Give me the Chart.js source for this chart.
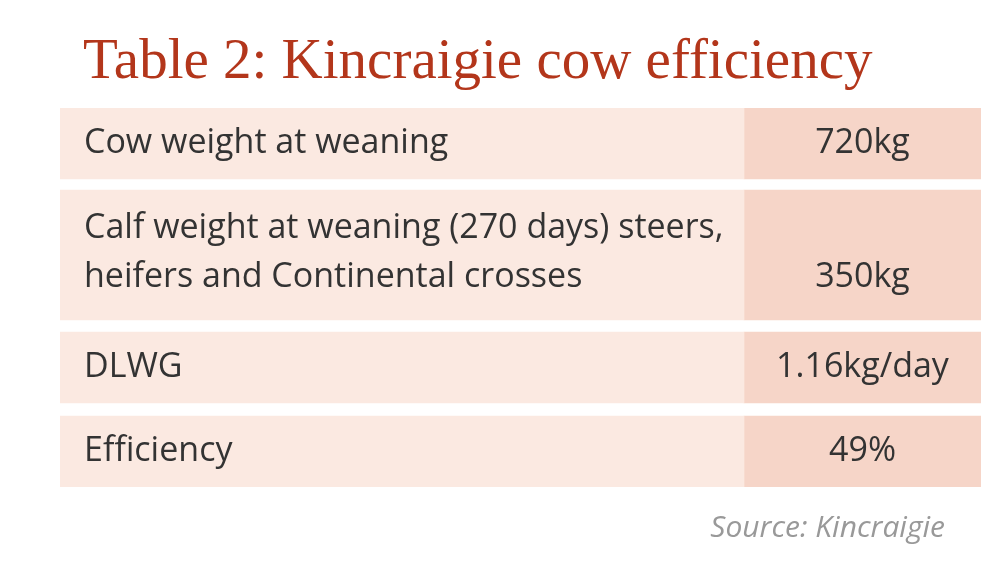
<!DOCTYPE html>
<html><head><meta charset="utf-8">
<script src="https://cdn.jsdelivr.net/npm/chart.js@4"></script>
<style>html,body{margin:0;padding:0;background:#fff}#w{width:981px;height:564px}</style>
</head><body><div id="w"><canvas id="c"></canvas></div>
<script>
const titleText = "Table 2: Kincraigie cow efficiency";
const sourceText = "Source: Kincraigie";
const rowLabels = [["Cow weight at weaning"], ["Calf weight at weaning (270 days) steers,", "heifers and Continental crosses"], ["DLWG"], ["Efficiency"]];
const rowValues = ["720kg", "350kg", "1.16kg/day", "49%"];
const rowCenters = [35.5, 147, 259.5, 343.5];
const rowTall = [false, true, false, false];
const labelSpan = [0, 684];
const valueSpan = [684, 921];

function mk(tall, span, color) {
  return {
    data: rowCenters.map((c, i) => rowTall[i] === tall ? { x: span, y: c } : { x: null, y: c }),
    backgroundColor: color, barThickness: tall ? 130 : 71, grouped: false, borderWidth: 0
  };
}
const textPlugin = {
  id: 'txt',
  afterDatasetsDraw(chart) {
    const { ctx, scales: { x, y } } = chart;
    ctx.save();
    ctx.fillStyle = '#b3361b';
    ctx.font = '57px "Liberation Serif", serif';
    ctx.textBaseline = 'alphabetic'; ctx.textAlign = 'left';
    ctx.fillText(titleText, 83, 78);
    ctx.fillStyle = '#333';
    ctx.font = '34px "Open Sans", sans-serif';
    rowCenters.forEach((c, i) => {
      const py = y.getPixelForValue(c);
      const lines = rowLabels[i];
      ctx.textBaseline = 'middle';
      ctx.textAlign = 'left';
      if (lines.length === 1) ctx.fillText(lines[0], x.getPixelForValue(0) + 24, py);
      else {
        ctx.fillText(lines[0], x.getPixelForValue(0) + 24, py - 27);
        ctx.fillText(lines[1], x.getPixelForValue(0) + 24, py + 22);
      }
      ctx.textAlign = 'center';
      const vx = (x.getPixelForValue(valueSpan[0]) + x.getPixelForValue(valueSpan[1])) / 2;
      ctx.fillText(rowValues[i], vx, lines.length === 1 ? py : py + 22);
    });
    ctx.fillStyle = '#999';
    ctx.font = 'italic 30px "Open Sans", sans-serif';
    ctx.textAlign = 'right'; ctx.textBaseline = 'middle';
    ctx.fillText(sourceText, 945, 528);
    ctx.restore();
  }
};
new Chart(document.getElementById('c'), {
  type: 'bar',
  data: { datasets: [mk(false, labelSpan, '#fbe9e1'), mk(true, labelSpan, '#fbe9e1'), mk(false, valueSpan, '#f6d5c8'), mk(true, valueSpan, '#f6d5c8')] },
  options: {
    indexAxis: 'y', responsive: true, maintainAspectRatio: false, animation: false,
    layout: { padding: { top: 108, bottom: 77, left: 60, right: 0 } },
    scales: {
      x: { type: 'linear', min: 0, max: 921, display: false, offset: false },
      y: { type: 'linear', min: 0, max: 379, reverse: true, display: false, offset: false }
    },
    plugins: { legend: { display: false }, tooltip: { enabled: false } }
  },
  plugins: [textPlugin]
});
</script></body></html>
